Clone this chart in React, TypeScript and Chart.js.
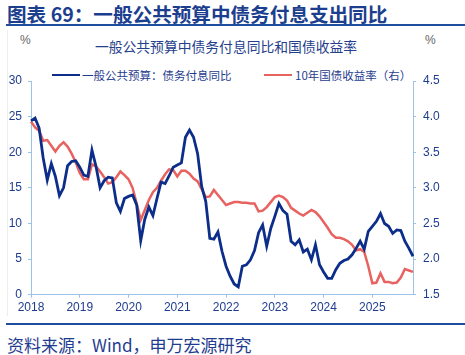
import React, { useEffect, useRef } from "react";
import { Chart, registerables } from "chart.js";

Chart.register(...registerables);

// ---- categories (monthly, Jan 2018 – Nov 2025) ----
const startYear = 2018;
const monthCount = 95;
const months: string[] = [];
for (let i = 0; i < monthCount; i++) {
  const y = startYear + Math.floor(i / 12);
  const m = (i % 12) + 1;
  months.push(`${y}-${String(m).padStart(2, "0")}`);
}

// ---- series ----
const seriesNames = ["一般公共预算：债务付息同比", "10年国债收益率（右）"];

// 一般公共预算：债务付息同比 (%), left axis
const debtInterestYoY = [
  24.4, 24.8, 23.4, 19.2, 16.1, 18.4, 16.6, 13.9, 15.0, 18.1, 18.7, 18.8,
  17.9, 16.8, 16.6, 20.3, 18.0, 15.0, 16.0, 16.5, 16.4, 12.9, 11.7, 13.5,
  13.8, 14.0, 12.6, 7.6, 10.6, 12.3, 11.1, 13.5, 15.8, 15.6, 16.7, 17.9,
  18.2, 18.5, 22.1, 23.1, 22.1, 19.8, 15.2, 13.1, 7.9, 7.8, 8.8, 6.1,
  4.0, 2.6, 1.5, 1.1, 4.0, 4.2, 4.9, 6.2, 8.7, 9.8, 6.8, 9.3,
  11.0, 12.8, 11.8, 11.3, 7.5, 7.0, 7.7, 6.0, 6.4, 4.9, 7.0, 4.2,
  3.2, 2.3, 2.3, 3.5, 4.4, 4.8, 5.0, 5.6, 6.5, 7.5, 6.4, 8.9,
  9.6, 10.3, 11.4, 10.0, 9.6, 8.6, 9.1, 9.0, 7.5, 6.5, 5.4,
];

// 10年国债收益率 (%), right axis
const bondYield10Y = [
  3.93, 3.85, 3.8, 3.66, 3.67, 3.59, 3.51, 3.59, 3.64, 3.58, 3.48, 3.36,
  3.21, 3.12, 3.12, 3.33, 3.3, 3.23, 3.15, 3.06, 3.08, 3.15, 3.23, 3.18,
  3.12, 3.0, 2.78, 2.55, 2.69, 2.83, 2.94, 3.0, 3.1, 3.19, 3.26, 3.25,
  3.16, 3.24, 3.24, 3.2, 3.13, 3.09, 2.98, 2.87, 2.88, 2.97, 2.9, 2.83,
  2.76, 2.78, 2.8, 2.8, 2.79, 2.79, 2.78, 2.78, 2.67, 2.68, 2.73, 2.8,
  2.87, 2.89, 2.87, 2.82, 2.72, 2.68, 2.64, 2.61, 2.65, 2.69, 2.66, 2.6,
  2.52, 2.44, 2.35, 2.3, 2.3, 2.28, 2.25, 2.2, 2.12, 2.14, 2.1, 1.9,
  1.66, 1.67, 1.8, 1.68, 1.68, 1.66, 1.67, 1.74, 1.86, 1.84, 1.82,
];

// ---- axes ----
const leftMin = 0;
const leftMax = 30;
const leftStep = 5;
const rightMin = 1.5;
const rightMax = 4.5;
const rightStep = 0.5;

const BLUE = "#0c2e8a";
const RED = "#e8625f";
const AXIS = "#9cc3e6";
const TEXT = "#1f3d8f";
const CJK = '"Noto Sans CJK SC", "Noto Sans", sans-serif';
const NUM = '"Liberation Sans", Arial, sans-serif';

export default function App() {
  const ref = useRef<HTMLCanvasElement | null>(null);

  useEffect(() => {
    if (!ref.current) return;
    const tickFont = { family: NUM, size: 12 };
    const chart = new Chart(ref.current, {
      type: "line",
      data: {
        labels: months,
        datasets: [
          {
            label: seriesNames[0],
            data: debtInterestYoY,
            borderColor: BLUE,
            borderWidth: 2.8,
            pointRadius: 0,
            tension: 0,
            yAxisID: "y",
            order: 1,
          },
          {
            label: seriesNames[1],
            data: bondYield10Y,
            borderColor: RED,
            borderWidth: 2.5,
            pointRadius: 0,
            tension: 0,
            yAxisID: "y1",
            order: 2,
          },
        ],
      },
      options: {
        animation: false,
        responsive: false,
        layout: { padding: { top: 51, left: 0, right: 0, bottom: 0 } },
        plugins: { legend: { display: false }, tooltip: { enabled: false } },
        scales: {
          x: {
            type: "category",
            offset: false,
            grid: { drawOnChartArea: false, tickLength: 3, color: AXIS },
            border: { color: AXIS, width: 1 },
            ticks: {
              autoSkip: false,
              maxRotation: 0,
              padding: 3,
              color: TEXT,
              font: tickFont,
              callback: function (this: any, val: any) {
                return String(this.getLabelForValue(val)).slice(0, 4);
              },
            },
            afterBuildTicks: (s: any) => {
              s.ticks = s.ticks.filter((t: any) => t.value % 12 === 0);
            },
            afterFit: (s: any) => {
              s.height = 25.3;
            },
          },
          y: {
            position: "left",
            min: leftMin,
            max: leftMax,
            grid: { drawOnChartArea: false, tickLength: 3, color: AXIS },
            border: { color: AXIS, width: 1 },
            ticks: { stepSize: leftStep, padding: 6, color: TEXT, font: tickFont },
            afterFit: (s: any) => {
              s.width = 31;
            },
          },
          y1: {
            position: "right",
            min: rightMin,
            max: rightMax,
            grid: { drawOnChartArea: false, tickLength: 3, color: AXIS },
            border: { color: AXIS, width: 1 },
            ticks: {
              stepSize: rightStep,
              padding: 7,
              color: TEXT,
              font: tickFont,
              callback: (v: any) => Number(v).toFixed(1),
            },
            afterFit: (s: any) => {
              s.width = 52;
            },
          },
        },
      },
    });
    return () => chart.destroy();
  }, []);

  const abs = (o: React.CSSProperties): React.CSSProperties => ({
    position: "absolute",
    whiteSpace: "nowrap",
    ...o,
  });

  return (
    <div
      style={{
        position: "fixed",
        left: 0,
        top: 0,
        width: 465,
        height: 355,
        background: "#fff",
        overflow: "hidden",
        fontFamily: CJK,
      }}
    >
      <div
        style={abs({
          left: 7,
          top: 0,
          fontSize: 19.6,
          lineHeight: "27px",
          fontWeight: 700,
          color: "#1b3e8e",
        })}
      >
        图表 69：一般公共预算中债务付息支出同比
      </div>
      <div style={abs({ left: 6, top: 23.5, width: 459, height: 2.5, background: "#1f4e9f" })} />
      <div style={abs({ left: 7, top: 30, width: 1, height: 286, background: "#eeeeee" })} />

      <div style={abs({ left: 20, top: 30, fontSize: 12, lineHeight: "20px", color: "#666", fontFamily: NUM })}>%</div>
      <div style={abs({ left: 425, top: 30, fontSize: 12, lineHeight: "20px", color: "#666", fontFamily: NUM })}>%</div>

      <div
        style={abs({
          left: 226,
          top: 36,
          transform: "translateX(-50%)",
          fontSize: 13.8,
          lineHeight: "20px",
          color: "#24408c",
        })}
      >
        一般公共预算中债务付息同比和国债收益率
      </div>

      <div style={abs({ left: 52, top: 73.7, width: 28, height: 2.8, background: BLUE })} />
      <div style={abs({ left: 82, top: 65, fontSize: 11.5, lineHeight: "20px", color: TEXT })}>{seriesNames[0]}</div>
      <div style={abs({ left: 264, top: 73.8, width: 28, height: 2.5, background: RED })} />
      <div style={abs({ left: 295, top: 65, fontSize: 11.5, lineHeight: "20px", color: TEXT })}>{seriesNames[1]}</div>

      <canvas
        ref={ref}
        width={465}
        height={290}
        style={{ position: "absolute", left: 0, top: 30, width: 465, height: 290 }}
      />

      <div style={abs({ left: 6, top: 323.3, width: 459, height: 2.2, background: "#1f4e9f" })} />
      <div style={abs({ left: 7, top: 334.5, fontSize: 17, lineHeight: "20px", color: "#1f3d8f" })}>
        资料来源：Wind，申万宏源研究
      </div>
    </div>
  );
}
